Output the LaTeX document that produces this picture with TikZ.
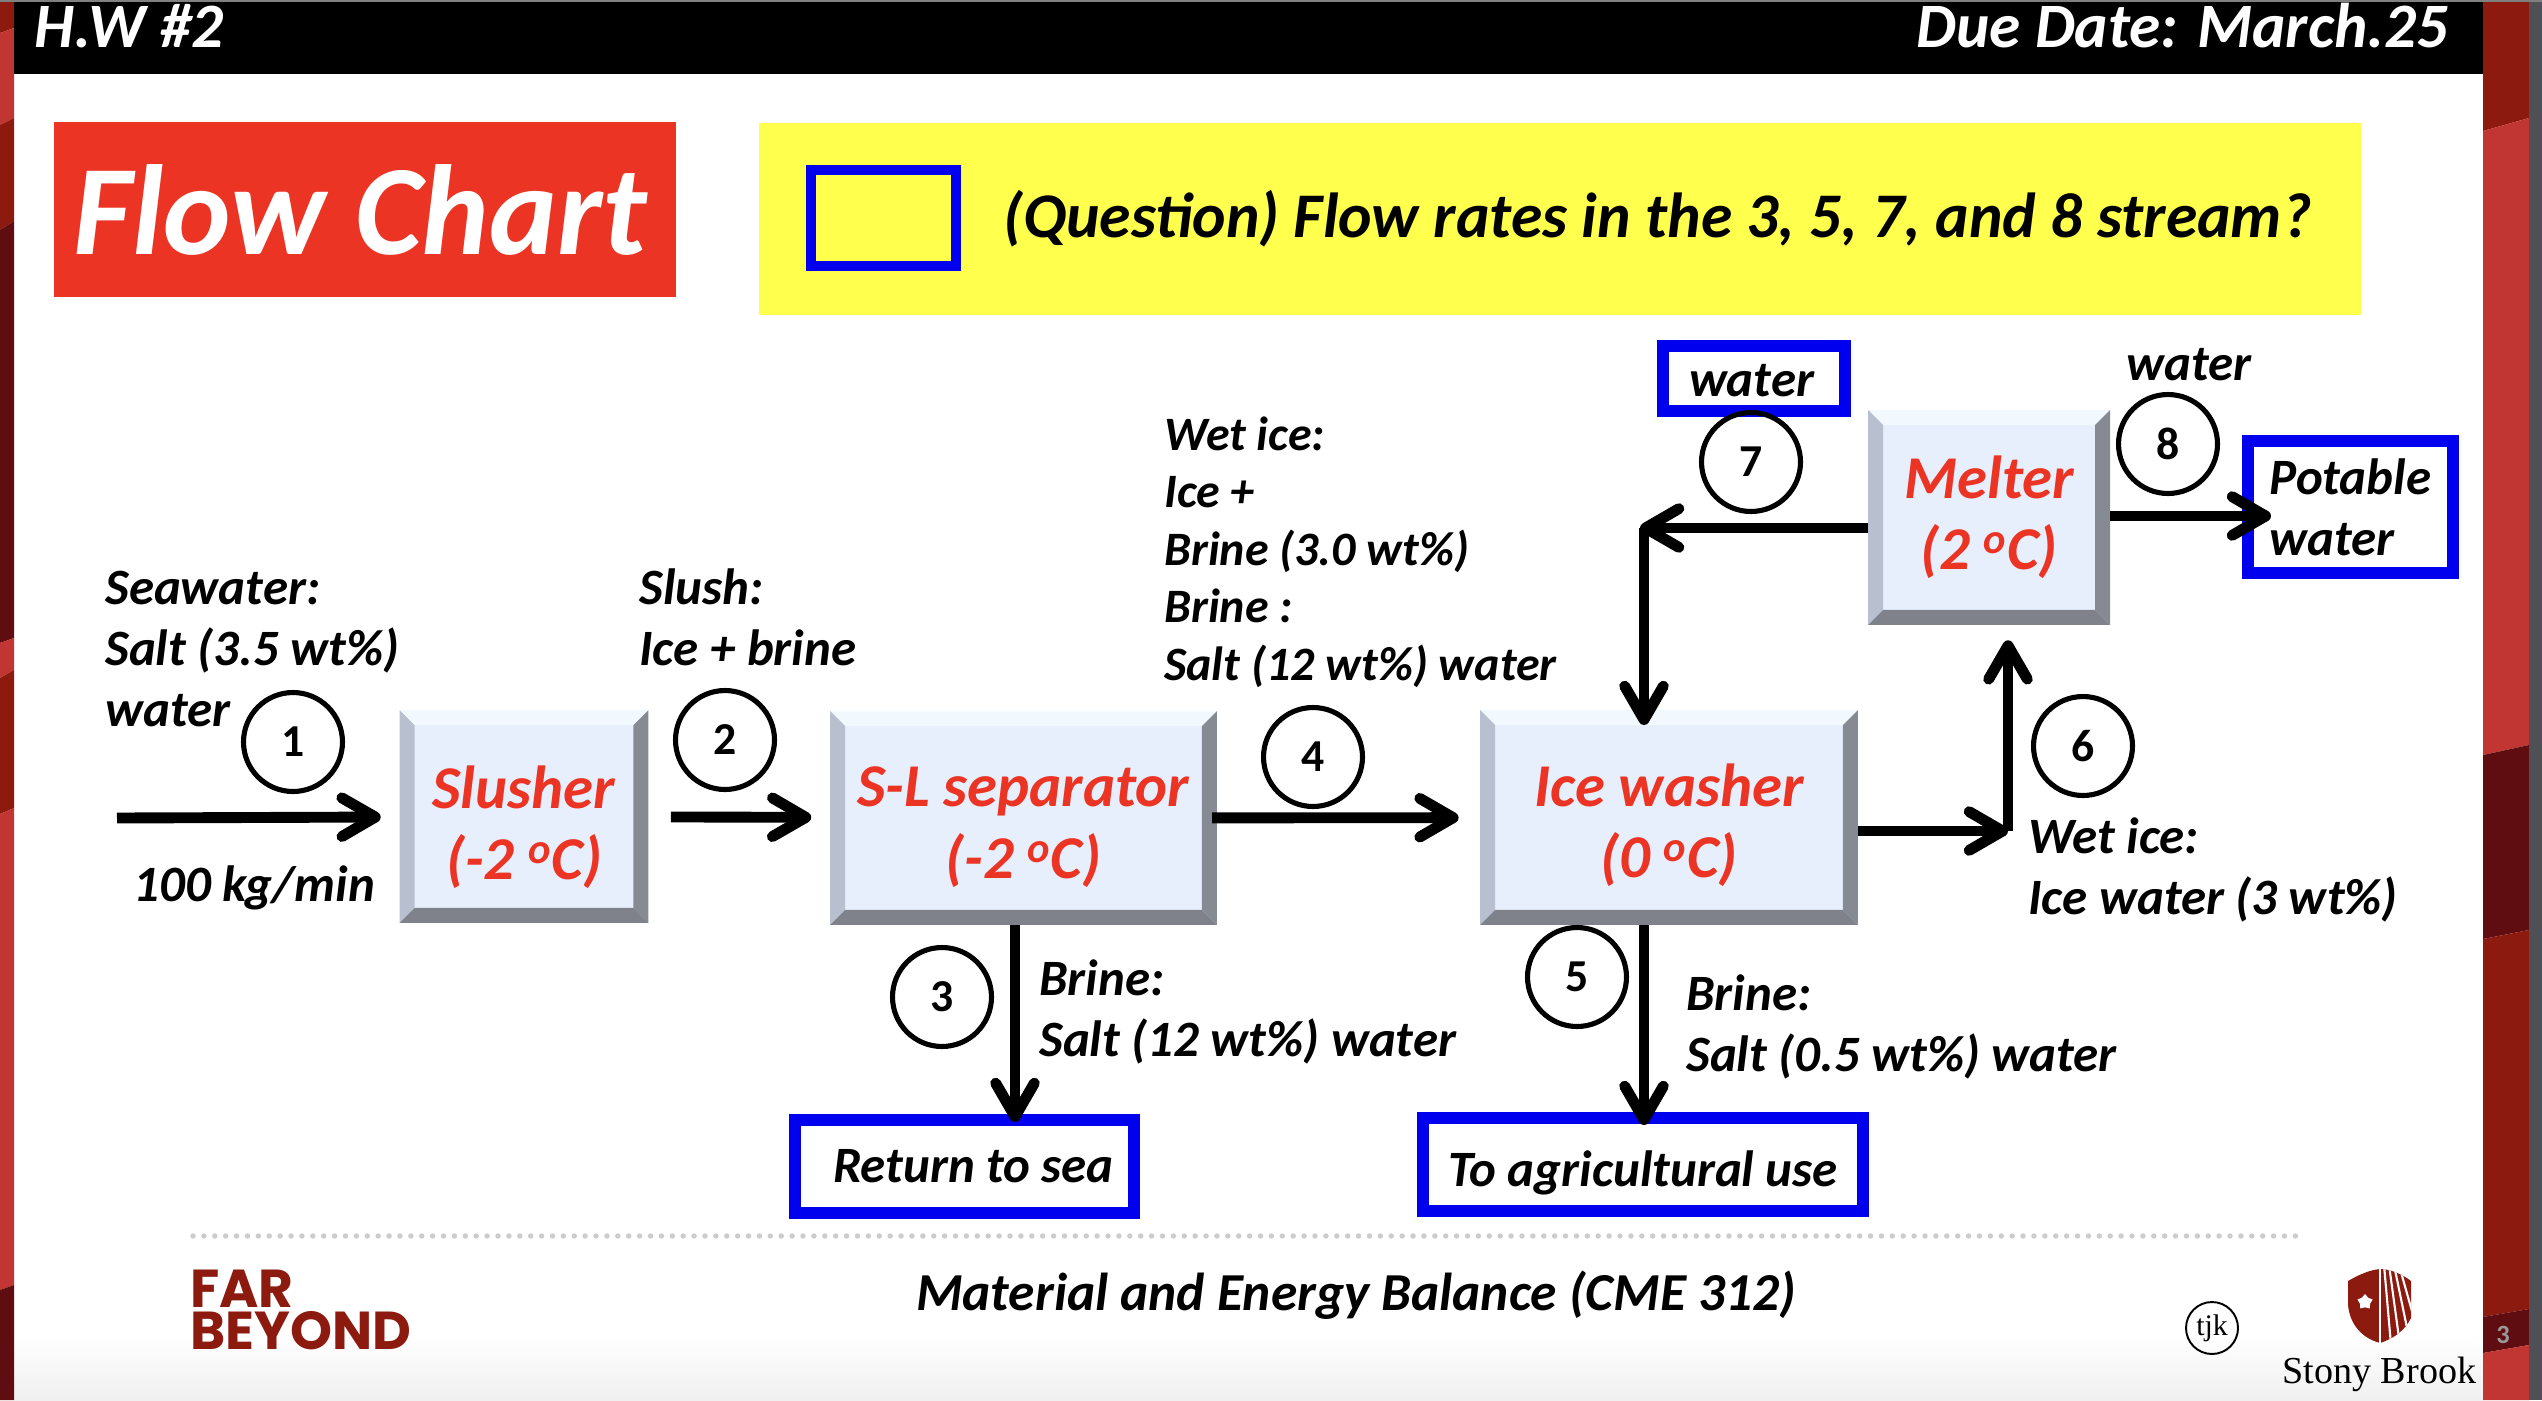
\documentclass[tikz,border=0pt]{standalone}
\usepackage{fontspec}
\setmainfont{Carlito}
\newfontfamily\logofont{Poppins}
\newfontfamily\sbfont{Liberation Serif}
\usetikzlibrary{shapes.geometric, arrows.meta, positioning, calc}
\definecolor{sbred}{RGB}{193, 54, 50}
\definecolor{sbdark}{RGB}{140, 26, 15}
\definecolor{sbdeep}{RGB}{96, 13, 18}
\definecolor{sbgray}{RGB}{78, 80, 86}
\definecolor{flowred}{RGB}{236, 52, 36}
\definecolor{flowblue}{RGB}{0, 0, 238}
\definecolor{flowyellow}{RGB}{255, 255, 77}
\definecolor{faceblue}{RGB}{231, 239, 252}
\definecolor{bevtop}{RGB}{242, 249, 254}
\definecolor{bevleft}{RGB}{184, 192, 208}
\definecolor{bevright}{RGB}{134, 138, 147}
\definecolor{bevbottom}{RGB}{127, 130, 139}

\begin{document}
\begin{tikzpicture}[x=0.02cm, y=-0.02cm]
    \tikzstyle{block} = [rectangle, fill=faceblue, inner sep=0pt, align=center, text=flowred, font=\fontsize{34.6}{40.5}\selectfont\bfseries\itshape,
        execute at begin node={\rule{0pt}{29pt}},
        path picture={
            \fill[bevtop] (path picture bounding box.north west) -- (path picture bounding box.north east) -- ++(-15,15) -- ($(path picture bounding box.north west)+(15,15)$) -- cycle;
            \fill[bevleft] (path picture bounding box.north west) -- (path picture bounding box.south west) -- ++(15,-15) -- ($(path picture bounding box.north west)+(15,15)$) -- cycle;
            \fill[bevright] (path picture bounding box.north east) -- (path picture bounding box.south east) -- ++(-15,-15) -- ($(path picture bounding box.north east)+(-15,15)$) -- cycle;
            \fill[bevbottom] (path picture bounding box.south west) -- (path picture bounding box.south east) -- ++(-15,-15) -- ($(path picture bounding box.south west)+(15,-15)$) -- cycle;
        }]
    \tikzstyle{goal} = [rectangle, draw=flowblue, line width=6.8pt, inner sep=0pt, align=left, font=\fontsize{29}{34.6}\selectfont\bfseries\itshape]
    \tikzstyle{arrow} = [line width=6.2pt, -{Straight Barb[length=19pt, width=22pt, round]}]
    \tikzstyle{stream} = [circle, draw, line width=2.9pt, minimum size=1.98cm, inner sep=0pt, font=\fontsize{26}{30}\selectfont\bfseries]
    \tikzstyle{label} = [anchor=west, inner sep=0pt, align=left, font=\fontsize{29}{34.6}\selectfont\bfseries\itshape]
    \tikzstyle{tightlabel} = [label, font=\fontsize{27.3}{32.7}\selectfont\bfseries\itshape]

    % page and side strips
    \useasboundingbox (0,0) rectangle (2542,1400);
    \fill[white] (0,0) rectangle (2542,1400);
    \shade[top color=white, bottom color=black!6] (14,1335) rectangle (2483,1400);
    \foreach \ya/\yb/\yc/\yd/\col in {0/0/33/28/sbdark, 33/28/125/118/sbred, 125/118/230/221/sbdark, 230/221/643/638/sbdeep, 643/638/678/670/sbred, 678/670/814/808/sbdark, 814/808/1290/1285/sbred, 1290/1285/1400/1400/sbdeep}
        \fill[\col] (0,\ya) -- (14,\yb) -- (14,\yd) -- (0,\yc) -- cycle;
    \foreach \ya/\yb/\yc/\yd/\col in {0/0/131/118/sbdark, 131/118/755/745/sbred, 755/745/939/930/sbdeep, 939/930/1317/1309/sbdark, 1317/1309/1353/1345/sbdeep, 1353/1345/1400/1400/sbred}
        \fill[\col] (2483,\ya) -- (2529,\yb) -- (2529,\yd) -- (2483,\yc) -- cycle;
    \fill[sbgray] (2529,0) rectangle (2542,1400);
    \fill[black] (14,2) rectangle (2483,74);
    \fill[gray] (0,0) rectangle (2542,2);
    \node[anchor=base west, inner sep=0pt, text=white, font=\fontsize{36}{40}\selectfont\bfseries\itshape] (hw) at (34,47) {H.W \#2};
    \node[anchor=base east, inner sep=0pt, text=white, font=\fontsize{36}{40}\selectfont\bfseries\itshape] (due) at (2449,47) {Due Date: March.25};

    % title and question
    \node[fill=flowred, minimum width=12.44cm, minimum height=3.5cm, inner sep=0pt, text=white, font=\fontsize{73}{80}\selectfont\bfseries\itshape] (title) at (365,209.5) {Flow Chart\kern0.2cm};
    \fill[flowyellow] (759,123) rectangle (2361,315);
    \node[rectangle, draw=flowblue, line width=6.2pt, minimum width=2.9cm, minimum height=1.92cm] (legend) at (883.5,218) {};
    \node[inner sep=0pt, font=\fontsize{36.2}{40}\selectfont\bfseries\itshape] (question) at (1657.5,219) {(Question) Flow rates in the 3, 5, 7, and 8 stream?};

    % process units
    \node[block, minimum width=4.98cm, minimum height=4.26cm] (slusher) at (524,816.5) {\rule{0pt}{36pt}Slusher\\(-2 \textsuperscript{o}C)};
    \node[block, minimum width=7.74cm, minimum height=4.28cm] (sep) at (1023.5,818) {\rule{0pt}{33pt}S-L separator\\(-2 \textsuperscript{o}C)};
    \node[block, minimum width=7.56cm, minimum height=4.3cm] (washer) at (1669,817.5) {\rule{0pt}{33pt}Ice washer\\(0 \textsuperscript{o}C)};
    \node[block, minimum width=4.84cm, minimum height=4.3cm] (melter) at (1989,517.5) {Melter\\(2 \textsuperscript{o}C)};

    % end points
    \node[goal, minimum width=6.78cm, minimum height=1.86cm] (sea) at (964.5,1166.5) {\hspace{0.36cm}Return to sea};
    \node[goal, minimum width=8.8cm, minimum height=1.86cm] (agri) at (1643,1164.5) {\rule{0pt}{30pt}To agricultural use};
    \node[goal, minimum width=3.64cm, minimum height=1.3cm] (water) at (1754,378.5) {\rule{0pt}{21pt}water\kern0.1cm};
    \node[goal, minimum width=4.1cm, minimum height=2.64cm] (potable) at (2350.5,507) {Potable\hspace{0.2cm}\\water};

    % free ends of the streams
    \coordinate (feed) at (117,818);
    \coordinate (tosea) at (1015,1122);
    \coordinate (toagri) at (1644,1125);
    \coordinate (corner) at (2008,831);
    \coordinate (split) at (1640,528);
    \coordinate (washin) at (1644,725);
    \coordinate (topot) at (2271,516);

    \draw[arrow, shorten >=10.5pt] (feed) -- (slusher);
    \draw[arrow, shorten <=12.5pt, shorten >=10.5pt] (slusher) -- (sep);
    \draw[arrow] (sep.south -| tosea) -- (tosea);
    \draw[arrow, shorten <=-3pt, shorten >=12pt] (sep) -- (washer);
    \draw[arrow] (washer.south -| toagri) -- (toagri);
    \draw[arrow] (washer.east |- corner) -- (corner);
    \draw[arrow, shorten >=8.5pt] (corner) -- (corner |- melter.south);
    \draw[arrow] (melter.west |- split) -- (split);
    \draw[arrow] (washin |- split) -- (washin);
    \draw[arrow] (melter.east |- topot) -- (topot);

    % stream numbers
    \foreach \n/\x/\y in {1/293/742, 2/725/740, 3/942/997, 4/1313/757, 5/1577/977, 6/2083/746, 7/1751/462, 8/2168/444}
        \node[stream] (s\n) at (\x,\y) {\n};

    % stream labels
    \node[label] (seawater) at (105,649) {Seawater:\\Salt (3.5 wt\%)\\water};
    \node[label] (rate) at (133,888) {100 kg/min};
    \node[label] (slush) at (639,617) {Slush:\\Ice + brine};
    \node[tightlabel] (wetice) at (1164,552) {Wet ice:\\Ice +\\Brine (3.0 wt\%)\\Brine :\\Salt (12 wt\%) water};
    \node[label] (brinea) at (1039,1012) {Brine:\\Salt (12 wt\%) water};
    \node[label] (brineb) at (1686,1027) {Brine:\\Salt (0.5 wt\%) water};
    \node[label] (wetb) at (2028,870) {Wet ice:\\Ice water (3 wt\%)};
    \node[label] (waterb) at (2126,365) {water};

    % footer
    \draw[black!20, line width=3.1pt, line cap=round, dash pattern=on 0pt off 6.2pt] (193,1236) -- (2306,1236);
    \node[inner sep=0pt, font=\fontsize{30.4}{36}\selectfont\bfseries\itshape] (course) at (1356,1295) {Material and Energy Balance (CME 312)};
    \node[anchor=west, inner sep=0pt, align=left, text=sbdark, font=\logofont\fontsize{30.4}{24}\selectfont\bfseries] (far) at (190,1310) {FAR\\BEYOND};
    \node[circle, draw, line width=1.1pt, minimum size=1.04cm, inner sep=0pt, font=\sbfont\fontsize{17}{20}\selectfont] (tjk) at (2212,1328) {tjk};
    \begin{scope}
        \clip (2348,1281) .. controls (2360,1274) and (2370,1270) .. (2380,1269) .. controls (2390,1269) and (2402,1274) .. (2411,1281) -- (2411,1318) .. controls (2405,1330) and (2395,1338) .. (2380,1343) .. controls (2362,1338) and (2350,1325) .. (2348,1305) -- cycle;
        \fill[sbdark] (2340,1260) rectangle (2420,1350);
        \foreach \xa/\xb/\yb in {2380/2380/1345, 2384/2391/1345, 2389/2399/1338, 2394/2407/1328, 2399/2413/1315}
            \draw[white, line width=1.2pt] (\xa,1265) -- (\xb,\yb);
    \end{scope}
    \node[star, star points=5, fill=white, minimum size=0.32cm, inner sep=0pt] (badge) at (2365,1302) {};
    \node[anchor=base west, inner sep=0pt, font=\sbfont\fontsize{21.7}{26}\selectfont] (stony) at (2282,1383) {Stony Brook};
    \node[inner sep=0pt, text=black!40, font=\fontsize{15}{18}\selectfont\bfseries] (page) at (2503,1335) {3};
\end{tikzpicture}
\end{document}
